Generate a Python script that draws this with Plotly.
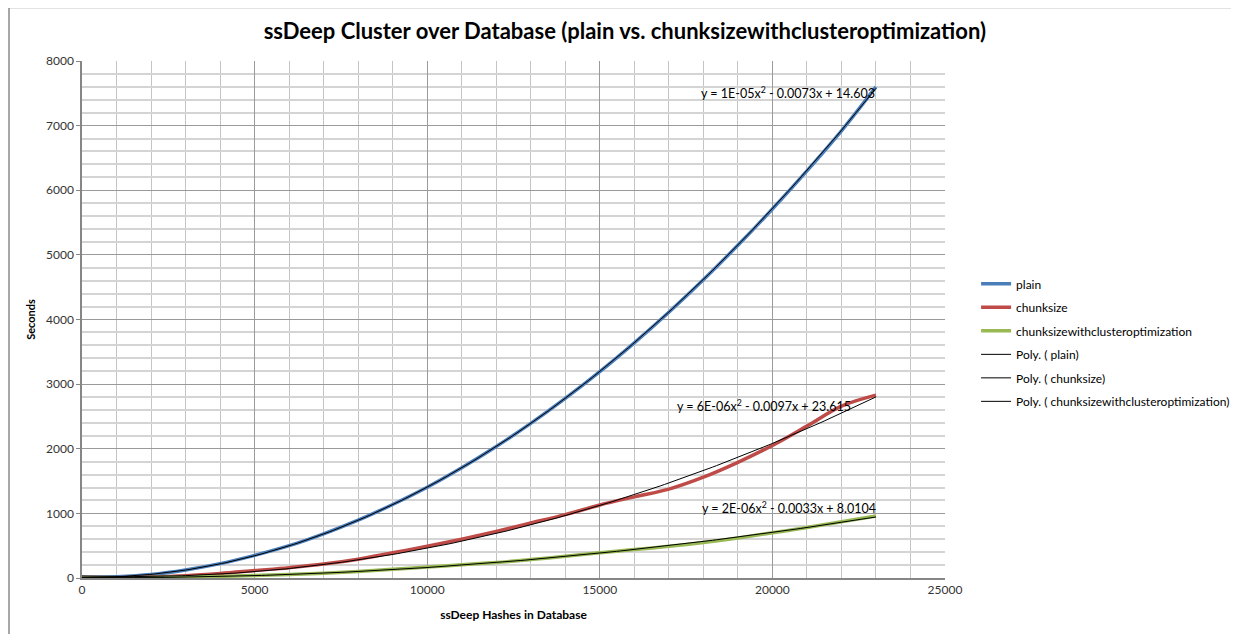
import numpy as np
import plotly.graph_objects as go

# hashes in database
hashes = [0, 1000, 2000, 3000, 4000, 5000, 6000, 7000, 8000, 9000, 10000, 11000,
          12000, 13000, 14000, 15000, 16000, 17000, 18000, 19000, 20000, 21000, 22000, 23000]

# seconds
plain = [0, 18, 55, 125, 222, 350, 500, 684, 895, 1138, 1405, 1706,
         2035, 2392, 2778, 3192, 3638, 4112, 4615, 5148, 5710, 6300, 6920, 7600]
chunksize = [0, 5, 15, 35, 70, 115, 160, 215, 290, 390, 490, 600,
             720, 850, 980, 1130, 1255, 1375, 1560, 1790, 2050, 2350, 2660, 2830]
cluster_opt = [0, 3, 8, 15, 25, 40, 55, 75, 100, 135, 170, 205,
               240, 285, 335, 390, 440, 490, 550, 620, 700, 780, 870, 960]

series_names = ['plain', 'chunksize', 'chunksizewithclusteroptimization']
series_values = [plain, chunksize, cluster_opt]
series_colors = ['#4a7ebb', '#be4b48', '#98b954']

# trendline labels as shown in the chart
equations = ['y = 1E-05x<sup>2</sup> - 0.0073x + 14.603',
             'y = 6E-06x<sup>2</sup> - 0.0097x + 23.615',
             'y = 2E-06x<sup>2</sup> - 0.0033x + 8.0104']
eq_pos = [(20440, 7510), (19760, 2665), (20480, 1085)]

FONT = 'Lato'

fig = go.Figure()

for i, (name, vals) in enumerate(zip(series_names, series_values)):
    fig.add_trace(go.Scatter(
        x=hashes, y=vals, mode='lines', name=name,
        line=dict(color=series_colors[i], width=3.5, shape='spline'),
        legendgroup=name
    ))

# polynomial (order 2) trendlines like excel
xs = np.linspace(hashes[0], hashes[-1], 200)
for name, vals in zip(series_names, series_values):
    coef = np.polyfit(hashes, vals, 2)
    fig.add_trace(go.Scatter(
        x=xs, y=np.polyval(coef, xs), mode='lines',
        name='Poly. ( %s)' % name,
        line=dict(color='black', width=1),
        legendgroup='poly ' + name
    ))

for txt, (ex, ey) in zip(equations, eq_pos):
    fig.add_annotation(x=ex, y=ey, text=txt, showarrow=False,
                       font=dict(family=FONT, size=12.5, color='black'),
                       xanchor='center', yanchor='middle')

# outer chart border (top and left edges visible)
fig.add_shape(type='line', xref='paper', yref='paper',
              x0=-0.0846, x1=1.36, y0=1.1035, y1=1.1035,
              line=dict(color='#8a8a8a', width=1.5))
fig.add_shape(type='line', xref='paper', yref='paper',
              x0=-0.0846, x1=-0.0846, y0=1.1035, y1=-0.12,
              line=dict(color='#8a8a8a', width=1.5))

fig.update_layout(
    width=1239, height=626,
    margin=dict(l=74, r=302, t=53, b=56),
    paper_bgcolor='white', plot_bgcolor='white',
    font=dict(family=FONT, size=11, color='#333333'),
    title=dict(text='<b>ssDeep Cluster over Database (plain vs. chunksizewithclusteroptimization)</b>',
               x=0.629, xref='paper', xanchor='center', y=0.962, yanchor='middle',
               font=dict(family=FONT, size=22, color='black')),
    showlegend=True,
    legend=dict(x=1.036, y=0.597, xanchor='left', yanchor='top',
                font=dict(family=FONT, size=12, color='black'),
                tracegroupgap=4.5, bgcolor='rgba(0,0,0,0)'),
    xaxis=dict(range=[0, 25000], dtick=5000, tick0=0, tickformat='d',
               showgrid=True, gridcolor='#9a9a9a', gridwidth=1,
               minor=dict(dtick=1000, showgrid=True, gridcolor='#c4c4c4', gridwidth=1),
               showline=True, linecolor='#868686', linewidth=1.5,
               zeroline=False, ticks='', tickfont=dict(size=12, color='#333333'),
               title=dict(text='<b>ssDeep Hashes in Database</b>', standoff=14,
                          font=dict(family=FONT, size=12, color='black'))),
    yaxis=dict(range=[0, 8000], dtick=1000, tick0=0, tickformat='d',
               showgrid=True, gridcolor='#9a9a9a', gridwidth=1,
               minor=dict(dtick=200, showgrid=True, gridcolor='#d4d4d4', gridwidth=1.5),
               showline=True, linecolor='#868686', linewidth=1.5,
               zeroline=False, ticks='outside', ticklen=4, tickcolor='#868686',
               tickfont=dict(size=12, color='#333333'),
               title=dict(text='<b>Seconds</b>', standoff=8,
                          font=dict(family=FONT, size=11, color='black'))),
)

fig.write_html('out.html')
